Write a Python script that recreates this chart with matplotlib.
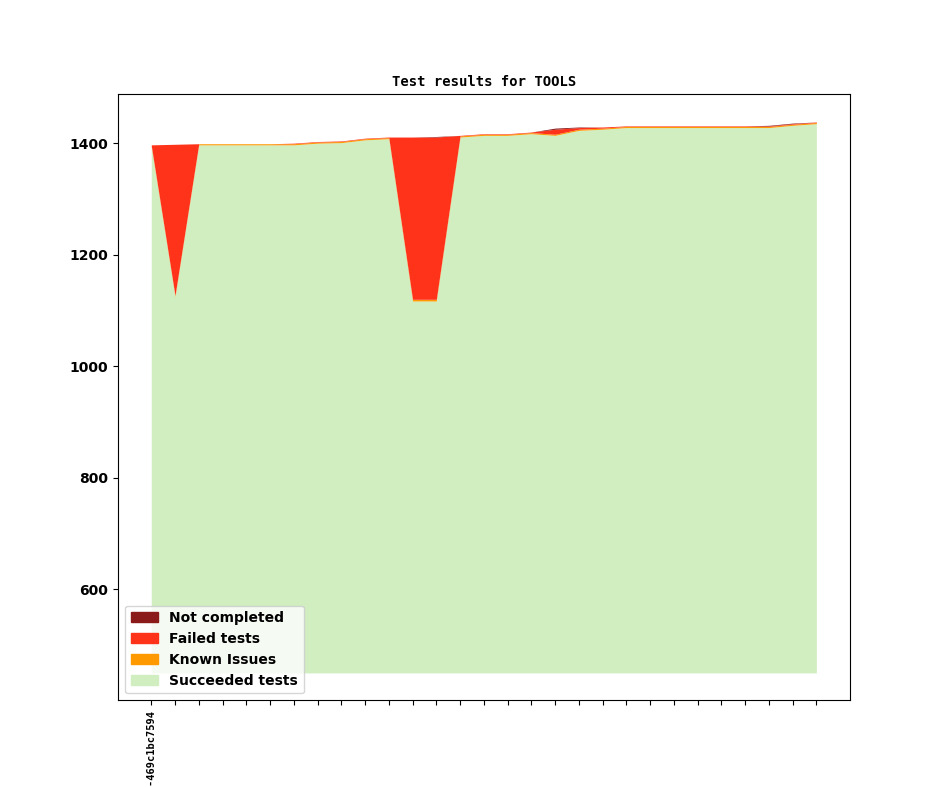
import numpy as np
import matplotlib
matplotlib.use('Agg')
import matplotlib.pyplot as plt
from matplotlib.patches import Patch

# test counts per build (29 builds)
succeeded = [1394, 1125, 1397, 1397, 1397, 1397, 1397, 1400, 1401, 1406, 1408, 1117, 1117, 1411, 1414,
             1414, 1417, 1414, 1423, 1425, 1428, 1428, 1428, 1428, 1428, 1428, 1428, 1432, 1435]
known_issues = [2, 2, 2, 2, 2, 2, 2, 2, 2, 2, 2, 3, 3, 2, 2,
                2, 2, 2, 2, 2, 2, 2, 2, 2, 2, 2, 2, 2, 2]
failed = [1, 271, 0, 0, 0, 0, 1, 1, 1, 1, 1, 291, 291, 1, 1,
          1, 1, 9, 3, 2, 1, 1, 1, 1, 1, 1, 1, 1, 1]
not_completed = [0, 0, 0, 0, 0, 0, 0, 0, 0, 0, 0, 0, 1, 0, 0,
                 0, 0, 2, 1, 0, 0, 0, 0, 0, 0, 0, 1, 1, 0]
build_labels = ['20231004-469c1bc7594'] + [''] * 28
BASE = 450

COLORS = {'Succeeded tests': '#d0eec0',
          'Known Issues': '#ff9900',
          'Failed tests': '#ff331a',
          'Not completed': '#8b1a1a'}


def plot_results():
    fig, ax = plt.subplots(figsize=(9.44, 7.87), dpi=100)
    x = np.arange(len(succeeded))

    layers = [('Succeeded tests', succeeded), ('Known Issues', known_issues),
              ('Failed tests', failed), ('Not completed', not_completed)]
    bottom = np.full(len(x), BASE, dtype=float)
    top = bottom + np.array(succeeded) - BASE
    for name, values in layers:
        if name == 'Succeeded tests':
            top = np.array(values, dtype=float)
        else:
            top = bottom + np.array(values, dtype=float)
        ax.fill_between(x, bottom, top, color=COLORS[name], linewidth=0)
        bottom = top

    ax.set_title('Test results for TOOLS', fontfamily='DejaVu Sans Mono', fontweight='bold', fontsize=10)
    ax.set_xticks(x)
    ax.set_xticklabels(build_labels, rotation=90, fontfamily='DejaVu Sans Mono', fontweight='bold', fontsize=7.5)
    ax.set_yticks([600, 800, 1000, 1200, 1400])
    for lbl in ax.get_yticklabels():
        lbl.set_fontweight('bold')
        lbl.set_fontsize(10)

    handles = [Patch(color=COLORS[n]) for n in ['Not completed', 'Failed tests', 'Known Issues', 'Succeeded tests']]
    leg = ax.legend(handles, ['Not completed', 'Failed tests', 'Known Issues', 'Succeeded tests'],
                    loc='lower left', prop={'weight': 'bold', 'size': 10})

    fig.savefig('out.png', dpi=100)


if __name__ == '__main__':
    plot_results()
